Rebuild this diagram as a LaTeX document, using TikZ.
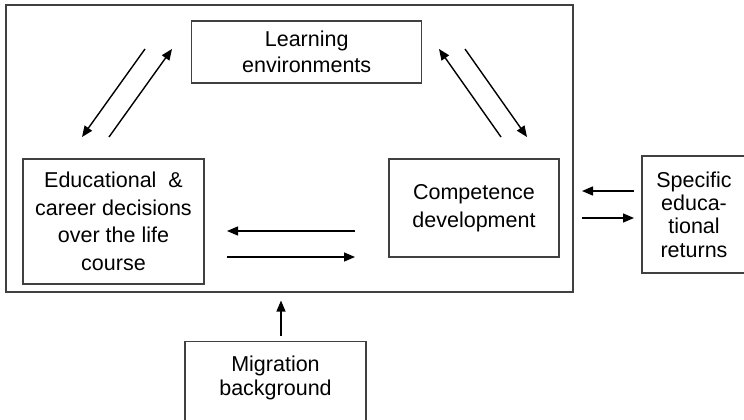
\documentclass[tikz,border=0pt]{standalone}
\usepackage{fontspec}
\setmainfont{Liberation Sans}
\usetikzlibrary{arrows.meta}

\begin{document}
\begin{tikzpicture}[x=1pt, y=-1pt, >={Triangle[length=11pt,width=9pt]},
    box/.style={draw=black!75, line width=1.1pt, align=center, inner sep=0pt,
      font=\fontsize{21.5}{27.5}\selectfont},
    flow/.style={->, line width=1.4pt}]

  \useasboundingbox (0,0) rectangle (744,420);

  %%%%%%%%%%%%%%%%%%%%%%%%%%%%%%%%%%%%%%%%%%%%%%%%%
  % Frame and boxes
  \node[draw=black!75, line width=1.1pt, minimum width=567pt, minimum height=287pt]
    (frame) at (289.5,148.5) {};

  \node[box, minimum width=230pt, minimum height=62pt,
    font=\fontsize{21.5}{26}\selectfont] (learn) at (306.7,52) {Learning\\environments};
  \node[box, minimum width=181pt, minimum height=125pt] (edu) at (113.5,221.5)
    {Educational \ \&\\career decisions\\over the life\\course};
  \node[box, minimum width=170pt, minimum height=98pt] (comp) at (474,208)
    {Competence\\development};
  \node[box, minimum width=112pt, minimum height=117pt,
    font=\fontsize{21.5}{23.3}\selectfont] (spec) at (698,214.5)
    {\hspace*{-8pt}Specific\\\hspace*{-8pt}educa-\\\hspace*{-8pt}tional\\\hspace*{-8pt}returns};
  \node[box, minimum width=181pt, anchor=north, inner ysep=14pt, text depth=80pt,
    font=\fontsize{21.5}{24.3}\selectfont] (mig) at (275.5,341)
    {Migration\\background};

  %%%%%%%%%%%%%%%%%%%%%%%%%%%%%%%%%%%%%%%%%%%%%%%%%
  % Arrow ends
  \coordinate (le-a) at (145,49);  \coordinate (le-b) at (82,137);
  \coordinate (le-c) at (109,137); \coordinate (le-d) at (172,49);
  \coordinate (lc-a) at (501,137); \coordinate (lc-b) at (439,49);
  \coordinate (lc-c) at (465,49);  \coordinate (lc-d) at (527,137);
  \coordinate (ec-a) at (355,231); \coordinate (ec-b) at (227,231);
  \coordinate (ec-c) at (227,257); \coordinate (ec-d) at (355,257);
  \coordinate (cs-a) at (634,191); \coordinate (cs-b) at (582,191);
  \coordinate (cs-c) at (582,218); \coordinate (cs-d) at (634,218);

  % Arrows
  \draw[flow] (le-a) -- (le-b);
  \draw[flow] (le-c) -- (le-d);
  \draw[flow] (lc-a) -- (lc-b);
  \draw[flow] (lc-c) -- (lc-d);
  \draw[flow] (ec-a) -- (ec-b);
  \draw[flow] (ec-c) -- (ec-d);
  \draw[flow] (cs-a) -- (cs-b);
  \draw[flow] (cs-c) -- (cs-d);

  % Migration into the frame
  \draw[flow, shorten <=5pt, shorten >=8pt]
    ([xshift=5.5pt]mig.north) -- ([xshift=5.5pt]mig.north |- frame.south);

\end{tikzpicture}
\end{document}
